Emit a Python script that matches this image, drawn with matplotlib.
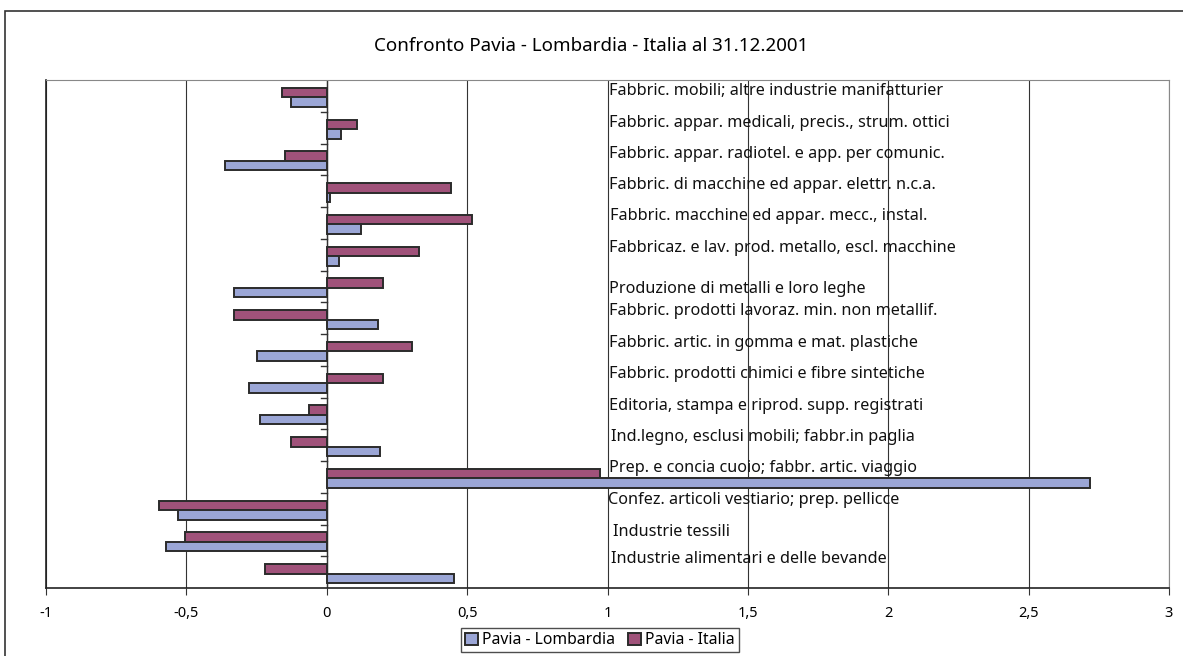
import matplotlib

matplotlib.use("Agg")
import matplotlib.pyplot as plt
from matplotlib.patches import Rectangle
import numpy as np

plt.rcParams["font.family"] = ["Noto Sans", "DejaVu Sans"]

title = "Confronto Pavia - Lombardia - Italia al 31.12.2001"

# top to bottom, as shown
categories = [
    "Fabbric. mobili; altre industrie manifatturier",
    "Fabbric. appar. medicali, precis., strum. ottici",
    "Fabbric. appar. radiotel. e app. per comunic.",
    "Fabbric. di macchine ed appar. elettr. n.c.a.",
    "Fabbric. macchine ed appar. mecc., instal.",
    "Fabbricaz. e lav. prod. metallo, escl. macchine",
    "Produzione di metalli e loro leghe",
    "Fabbric. prodotti lavoraz. min. non metallif.",
    "Fabbric. artic. in gomma e mat. plastiche",
    "Fabbric. prodotti chimici e fibre sintetiche",
    "Editoria, stampa e riprod. supp. registrati",
    "Ind.legno, esclusi mobili; fabbr.in paglia",
    "Prep. e concia cuoio; fabbr. artic. viaggio",
    "Confez. articoli vestiario; prep. pellicce",
    "Industrie tessili",
    "Industrie alimentari e delle bevande",
]

pavia_lombardia = [-0.127, 0.049, -0.361, 0.011, 0.123, 0.045, -0.331, 0.181,
                   -0.249, -0.277, -0.236, 0.191, 2.72, -0.531, -0.572, 0.455]
pavia_italia = [-0.161, 0.108, -0.147, 0.443, 0.519, 0.330, 0.200, -0.331,
                0.304, 0.200, -0.063, -0.128, 0.975, -0.598, -0.504, -0.221]

# vertical nudge / horizontal shift of each category text inside its slot
label_nudge = [-0.15, -0.15, -0.18, -0.2, -0.22, -0.22, 0.07, -0.22,
               -0.22, -0.25, -0.23, -0.25, -0.28, -0.28, -0.26, -0.41]
label_shift = [0.004, 0.007, 0.007, 0.007, 0.009, 0.007, 0.007, 0.007,
               0.007, 0.007, 0.007, 0.011, 0.007, 0.002, 0.018, 0.011]

col_lomb = "#9BA6D6"
col_ital = "#A0527A"
edge = "#2b2b2b"

fig = plt.figure(figsize=(11.83, 6.56), dpi=100)
fig.patches.append(Rectangle((5 / 1183, -0.1), 1.2, (656 - 11) / 656 + 0.1,
                             transform=fig.transFigure, fill=False,
                             edgecolor="#333333", linewidth=1.2))

ax = fig.add_axes([46 / 1183, 68 / 656, 1123 / 1183, 508 / 656])

y = np.arange(len(categories))
h = 0.3
ax.barh(y - 0.1, pavia_italia, height=h, color=col_ital, edgecolor=edge,
        linewidth=1.4, label="Pavia - Italia", zorder=3)
ax.barh(y + 0.2, pavia_lombardia, height=h, color=col_lomb, edgecolor=edge,
        linewidth=1.4, label="Pavia - Lombardia", zorder=3)

ax.set_xlim(-1, 3)
ax.set_ylim(len(categories) - 0.5, -0.5)
ax.set_xticks(np.arange(-1, 3.01, 0.5))
ax.set_xticklabels([("%g" % v).replace(".", ",") for v in np.arange(-1, 3.01, 0.5)],
                   fontsize=10.5)
ax.tick_params(axis="x", length=5, direction="out", pad=8, color="#333333")
ax.set_yticks([])
ax.grid(axis="x", color="#333333", linewidth=0.8, zorder=0)

# category axis at zero with small ticks between slots
ax.axvline(0, color="#333333", linewidth=1.0, zorder=2)
for b in np.arange(0.5, len(categories) - 0.5, 1):
    ax.plot([-0.02, 0], [b, b], color="#333333", linewidth=1.0, zorder=2)

for s in ["top", "right"]:
    ax.spines[s].set_color("#888888")
for s in ["left", "bottom"]:
    ax.spines[s].set_color("#222222")
    ax.spines[s].set_linewidth(1.2)

for i, name in enumerate(categories):
    ax.text(1.0 + label_shift[i], i + label_nudge[i], name, fontsize=11.7,
            va="center", ha="left", color="#111111", zorder=4)

fig.text(0.5, 1 - 46 / 656, title, ha="center", va="center", fontsize=13.5)

handles, labels = ax.get_legend_handles_labels()
leg = fig.legend(handles[::-1], labels[::-1], loc="center",
                 bbox_to_anchor=(600 / 1183, 1 - 640 / 656), ncol=2,
                 frameon=True, fancybox=False, fontsize=11.3, handlelength=0.8,
                 handleheight=0.8, handletextpad=0.3, columnspacing=0.8,
                 borderpad=0.25, borderaxespad=0)
leg.get_frame().set_edgecolor("#222222")
leg.get_frame().set_linewidth(1.0)

fig.savefig("out.png", dpi=100)
